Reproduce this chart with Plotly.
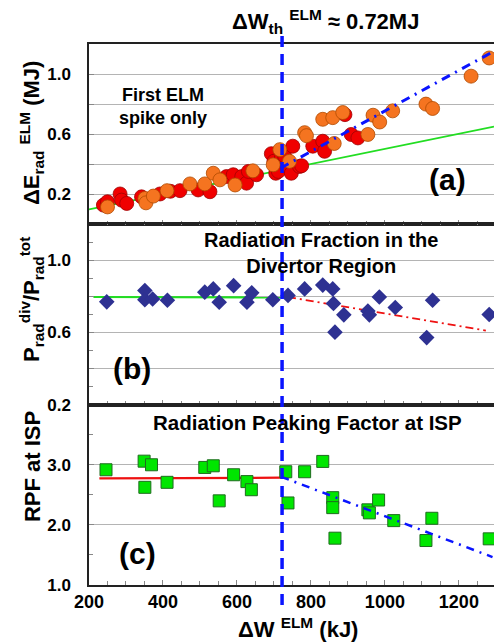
import plotly.graph_objects as go
from plotly.subplots import make_subplots

# ---------------- data ----------------
# panel (a): radiated energy per ELM (MJ) vs ELM energy loss (kJ)
red_x = [239, 250, 284, 288, 302, 342, 392, 420, 446, 495, 527, 572, 590, 613, 626, 631, 653,
         693, 700, 705, 712, 720, 729, 735, 747, 751, 769, 775, 805, 832, 837, 892, 909, 927]
red_y = [0.128, 0.150, 0.202, 0.161, 0.139, 0.183, 0.202, 0.220, 0.224, 0.229, 0.217, 0.318, 0.330,
         0.318, 0.274, 0.352, 0.330, 0.470, 0.420, 0.340, 0.352, 0.440, 0.453, 0.385, 0.340, 0.520,
         0.385, 0.390, 0.520, 0.553, 0.486, 0.730, 0.598, 0.575]
orange_x = [250, 351, 354, 374, 411, 473, 513, 536, 554, 595, 643, 698, 716, 742, 783, 788, 832,
            859, 863, 886, 954, 968, 986, 1021, 1111, 1129, 1233, 1282]
orange_y = [0.116, 0.172, 0.143, 0.188, 0.224, 0.269, 0.269, 0.340, 0.296, 0.262, 0.356, 0.396,
            0.497, 0.419, 0.610, 0.590, 0.699, 0.710, 0.538, 0.744, 0.598, 0.726, 0.681, 0.755,
            0.800, 0.771, 0.986, 1.107]
fit_a_low_x = [200, 1295]
fit_a_low_y = [0.100, 0.650]
fit_a_high_x = [718, 1291]
fit_a_high_y = [0.374, 1.147]

# panel (b): radiation fraction in the divertor
frac_x = [248, 351, 351, 372, 412, 513, 536, 552, 591, 627, 640, 697, 738, 783, 832, 859, 861,
          865, 889, 954, 958, 985, 1028, 1113, 1129, 1282]
frac_y = [0.770, 0.833, 0.782, 0.786, 0.779, 0.824, 0.842, 0.768, 0.860, 0.768, 0.820, 0.782,
          0.806, 0.842, 0.863, 0.842, 0.761, 0.602, 0.698, 0.719, 0.698, 0.797, 0.739, 0.572,
          0.779, 0.700]
fit_b_low_x = [212, 720]
fit_b_low_y = [0.797, 0.795]
fit_b_high_x = [738, 1273]
fit_b_high_y = [0.797, 0.611]

# panel (c): radiation peaking factor at ISP
rpf_x = [246, 349, 369, 351, 411, 513, 536, 552, 591, 627, 639, 732, 738, 783, 832, 859, 859,
         865, 954, 958, 983, 1024, 1111, 1127, 1282]
rpf_y = [2.917, 3.060, 3.000, 2.625, 2.708, 2.956, 2.983, 2.400, 2.834, 2.720, 2.585, 2.884,
         2.365, 2.884, 3.056, 2.453, 2.287, 1.779, 2.250, 2.200, 2.414, 2.071, 1.740, 2.110, 1.768]
fit_c_low_x = [228, 720]
fit_c_low_y = [2.774, 2.785]
fit_c_high_x = [720, 1291]
fit_c_high_y = [2.800, 1.465]

elm_threshold = 722

x_tick_vals = [200, 400, 600, 800, 1000, 1200]
ya_tick_vals = [0.2, 0.4, 0.6, 0.8, 1.0]
ya_tick_text = ["0.2", "", "0.6", "", "1.0"]
yb_tick_vals = [0.2, 0.4, 0.6, 0.8, 1.0]
yb_tick_text = ["0.2", "", "0.6", "", "1.0"]
yc_tick_vals = [1, 2, 3]
yc_tick_text = ["1.0", "2.0", "3.0"]

# ---------------- figure ----------------
FONT = "Liberation Sans, Arial, sans-serif"
BLUE = "#0a14ff"

fig = make_subplots(rows=3, cols=1, shared_xaxes=True, vertical_spacing=0)

# panel (a)
fig.add_trace(go.Scatter(x=fit_a_low_x, y=fit_a_low_y, mode="lines",
                         line=dict(color="#22dd22", width=1.8)), row=1, col=1)
fig.add_trace(go.Scatter(x=red_x, y=red_y, mode="markers",
                         marker=dict(size=14, color="#f00000",
                                     line=dict(color="#a00000", width=0.8))), row=1, col=1)
fig.add_trace(go.Scatter(x=orange_x, y=orange_y, mode="markers",
                         marker=dict(size=14, color="#f57420",
                                     line=dict(color="#b04a00", width=0.8))), row=1, col=1)
fig.add_trace(go.Scatter(x=fit_a_high_x, y=fit_a_high_y, mode="lines",
                         line=dict(color=BLUE, width=3, dash="9px,6px,2px,6px")), row=1, col=1)

# panel (b)
fig.add_trace(go.Scatter(x=fit_b_low_x, y=fit_b_low_y, mode="lines",
                         line=dict(color="#22dd22", width=2.2)), row=2, col=1)
fig.add_trace(go.Scatter(x=fit_b_high_x, y=fit_b_high_y, mode="lines",
                         line=dict(color="#ee1111", width=1.8, dash="8px,4px,2px,4px")), row=2, col=1)
fig.add_trace(go.Scatter(x=frac_x, y=frac_y, mode="markers",
                         marker=dict(size=12, symbol="diamond", color="#2e3192",
                                     line=dict(width=0))), row=2, col=1)

# panel (c)
fig.add_trace(go.Scatter(x=fit_c_low_x, y=fit_c_low_y, mode="lines",
                         line=dict(color="#ee1111", width=2.2)), row=3, col=1)
fig.add_trace(go.Scatter(x=rpf_x, y=rpf_y, mode="markers",
                         marker=dict(size=12, symbol="square", color="#00e600",
                                     line=dict(color="#1f6b1f", width=1))), row=3, col=1)
fig.add_trace(go.Scatter(x=fit_c_high_x, y=fit_c_high_y, mode="lines",
                         line=dict(color=BLUE, width=2.5, dash="8px,6px,2px,6px")), row=3, col=1)

xcommon = dict(range=[200, 1295], showgrid=False, zeroline=False, showline=True,
               linecolor="#222222", linewidth=1.5, mirror=True,
               ticks="inside", ticklen=5, tickcolor="#888888", tickvals=x_tick_vals,
               minor=dict(ticks="inside", ticklen=4, dtick=50, tickcolor="#888888"),
               tickfont=dict(family=FONT, size=18, color="black", weight="bold"))
for r in (1, 2, 3):
    fig.update_xaxes(**xcommon, row=r, col=1)
fig.update_xaxes(showticklabels=False, row=1, col=1)
fig.update_xaxes(showticklabels=False, row=2, col=1)

ycommon = dict(showgrid=True, gridcolor="#b4b4b4", gridwidth=1.3, zeroline=False,
               showline=True, linecolor="#222222", linewidth=1.5,
               ticks="inside", ticklen=5, tickcolor="#888888", ticklabelstandoff=13,
               tickfont=dict(family=FONT, size=17, color="black", weight="bold"))
fig.update_yaxes(**ycommon, range=[0, 1.2], tickvals=ya_tick_vals, ticktext=ya_tick_text,
                 minor=dict(ticks="", showgrid=False), row=1, col=1)
fig.update_yaxes(**ycommon, range=[0.2, 1.2], tickvals=yb_tick_vals, ticktext=yb_tick_text,
                 minor=dict(ticks="inside", ticklen=4, dtick=0.1, tickcolor="#888888",
                            showgrid=False), row=2, col=1)
fig.update_yaxes(**ycommon, range=[1, 4], tickvals=yc_tick_vals, ticktext=yc_tick_text,
                 minor=dict(ticks="inside", ticklen=4, dtick=0.5, tickcolor="#888888",
                            showgrid=False), row=3, col=1)

# vertical threshold line
fig.add_shape(type="line", xref="x", yref="paper", x0=elm_threshold, x1=elm_threshold,
              y0=-0.037, y1=1.017, layer="above",
              line=dict(color=BLUE, width=3.5, dash="11px,7px"))

def ann(text, x, y, xref, yref, size, angle=0, xanchor="center"):
    fig.add_annotation(text=text, x=x, y=y, xref=xref, yref=yref, showarrow=False,
                       textangle=angle, xanchor=xanchor, yanchor="middle",
                       font=dict(family=FONT, size=size, color="black", weight="bold"))

ann("ΔW<sub>th</sub> <sup>ELM</sup> ≈ 0.72MJ", 0.585, 1.042, "paper", "paper", 22)
ann("First ELM<br>spike only", 399, 0.786, "x", "y", 18)
ann("(a)", 1169, 0.296, "x", "y", 30)
ann("(b)", 316, 0.401, "x", "y2", 30)
ann("(c)", 330, 1.52, "x", "y3", 30)
ann("Radiation Fraction in the<br>Divertor Region", 826, 1.043, "x", "y2", 20)
ann("Radiation Peaking Factor at ISP", 791, 3.708, "x", "y3", 20.5)
ann("ΔE<sub>rad</sub> <sup>ELM</sup> (MJ)", -0.1407, 0.8355, "paper", "paper", 22, angle=-90)
ann("P<sub>rad</sub><sup>div</sup>/P<sub>rad</sub><sup>tot</sup>", -0.1407, 0.527, "paper", "paper", 22, angle=-90)
ann("RPF at ISP", -0.1407, 0.218, "paper", "paper", 22, angle=-90)
ann("ΔW <sup>ELM</sup> (kJ)", 0.516, -0.0795, "paper", "paper", 22)

fig.update_layout(width=494, height=644, margin=dict(l=89, r=0, t=44, b=59),
                  paper_bgcolor="white", plot_bgcolor="white", showlegend=False,
                  font=dict(family=FONT, color="black"))

fig.write_html("out.html")
